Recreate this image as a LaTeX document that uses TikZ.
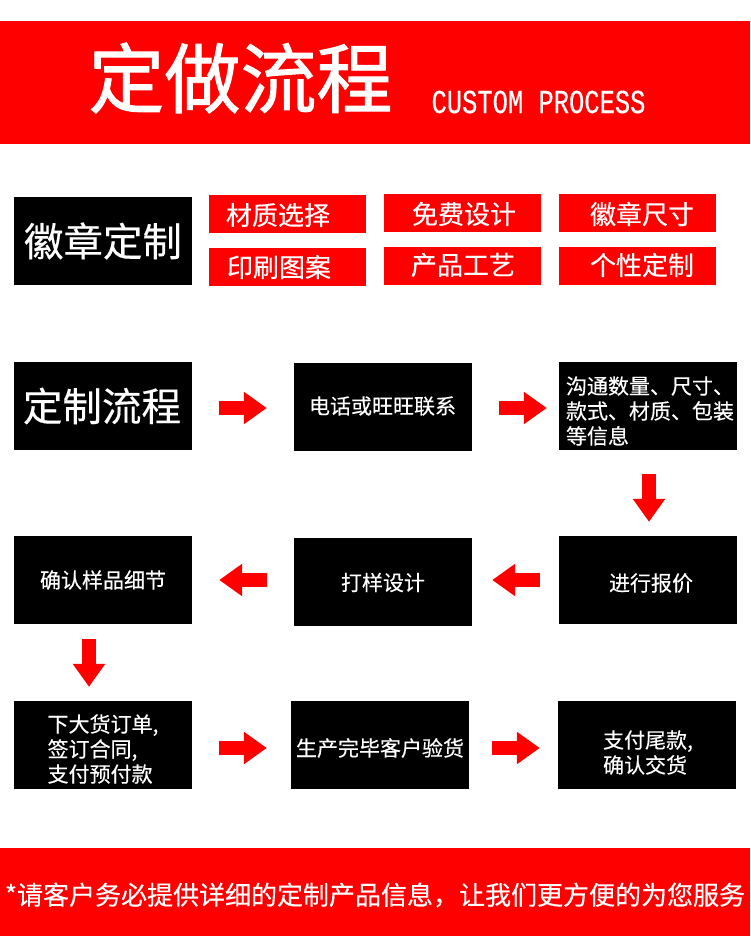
\documentclass[tikz,border=0pt]{standalone}
\usepackage{fontspec}
\setmainfont[FakeBold=0.3]{Noto Sans CJK SC}
\newfontfamily\titlefont[FakeBold=1.2]{Noto Sans CJK SC}
\newfontfamily\latinmono[FakeStretch=0.76,FakeBold=0.3]{Liberation Mono}
\usetikzlibrary{arrows.meta}
\tikzset{
  band/.style={shape=rectangle,fill=red,inner sep=0pt,minimum width=750pt},
  redbox/.style={shape=rectangle,fill=red,inner sep=0pt,minimum width=157pt,minimum height=38pt},
  blackbox/.style={shape=rectangle,fill=black,text=white,inner sep=0pt,minimum width=178pt,minimum height=88pt,align=left,font=\fontsize{21}{24.5}\selectfont},
  blacktext/.style={text=white,inner sep=0pt,align=left,font=\fontsize{21}{25}\selectfont},
  bigtext/.style={text=white,font=\fontsize{39.5}{40}\selectfont},
  redtext/.style={text=white,inner sep=0pt,font=\fontsize{26}{26}\selectfont},
  flowarrow/.style={draw=red,line width=14pt,-{Triangle[length=23pt,width=31pt]}}
}
\begin{document}
\begin{tikzpicture}[x=1pt,y=-1pt]
\useasboundingbox (0,0) rectangle (750,948);
\node[band,minimum height=123pt] (top) at (375,82.5) {};
\node[text=white,inner sep=0pt,font=\fontsize{76}{76}\selectfont\titlefont] (title) at (240.5,78) {定做流程};
\node[text=white,inner sep=0pt,font=\fontsize{33.5}{33.5}\selectfont\latinmono] (subtitle) at (538.5,102) {CUSTOM PROCESS};
\node[blackbox,bigtext] (badge) at (103,241) {徽章定制};
\node[redbox] (r1) at (287.5,214) {};
\node[redbox] (r2) at (462.5,213) {};
\node[redbox] (r3) at (637.5,213) {};
\node[redbox] (r4) at (287.5,267) {};
\node[redbox] (r5) at (462.5,266) {};
\node[redbox] (r6) at (637.5,266) {};
\node[redtext] (t1) at (278,215) {材质选择};
\node[redtext] (t2) at (464,214) {免费设计};
\node[redtext] (t3) at (642,214) {徽章尺寸};
\node[redtext] (t4) at (279,267) {印刷图案};
\node[redtext] (t5) at (463,265) {产品工艺};
\node[redtext] (t6) at (642,265) {个性定制};
\node[blackbox,bigtext] (custom) at (103,406) {};
\node[blackbox] (phone) at (383,407) {};
\node[blackbox] (talk) at (648,406) {};
\node[blackbox] (quote) at (648,580) {};
\node[blackbox] (sample) at (383,582) {};
\node[blackbox] (confirm) at (103,580) {};
\node[blackbox] (order) at (103,745) {};
\node[blackbox] (produce) at (380,745) {};
\node[blackbox] (pay) at (647,745) {};
\node[bigtext,inner sep=0pt] (c0) at (102,406) {定制流程};
\node[blacktext] (c1) at (382.5,406) {电话或旺旺联系};
\node[blacktext] (c2) at (650,411) {沟通数量、尺寸、\\款式、材质、包装\\等信息};
\node[blacktext] (c3) at (651,583) {进行报价};
\node[blacktext] (c4) at (383,582.5) {打样设计};
\node[blacktext] (c5) at (103,580) {确认样品细节};
\node[blacktext] (c6) at (103,749) {下大货订单,\\签订合同,\\支付预付款};
\node[blacktext] (c7) at (380,748) {生产完毕客户验货};
\node[blacktext] (c8) at (648,752.5) {支付尾款,\\确认交货};
\node[band,minimum height=88pt] (foot) at (375,892) {};
\node[text=white,inner sep=0pt,font=\fontsize{26}{26}\selectfont] (note) at (375,895) {*请客户务必提供详细的定制产品信息，让我们更方便的为您服务};
\draw[flowarrow,shorten <=27pt,shorten >=27pt] ([yshift=-1pt]custom.east |- phone) -- ([yshift=-1pt]phone.west);
\draw[flowarrow,shorten <=27pt,shorten >=12pt] ([yshift=-1pt]phone.east) -- ([yshift=-1pt]talk.west |- phone);
\draw[flowarrow,shorten <=24pt,shorten >=14pt] ([xshift=1pt]talk.south) -- ([xshift=1pt]quote.north);
\draw[flowarrow,shorten <=19pt,shorten >=20pt] (quote.west |- confirm) -- (sample.east |- confirm);
\draw[flowarrow,shorten <=27pt,shorten >=27pt] (sample.west |- confirm) -- (confirm.east);
\draw[flowarrow,shorten <=15pt,shorten >=14pt] ([xshift=-14pt]confirm.south) -- ([xshift=-14pt]order.north);
\draw[flowarrow,shorten <=27pt,shorten >=24pt] ([yshift=-3pt]order.east) -- ([yshift=-3pt]produce.west);
\draw[flowarrow,shorten <=23pt,shorten >=18pt] ([yshift=-3pt]produce.east) -- ([yshift=-3pt]pay.west);
\end{tikzpicture}
\end{document}
